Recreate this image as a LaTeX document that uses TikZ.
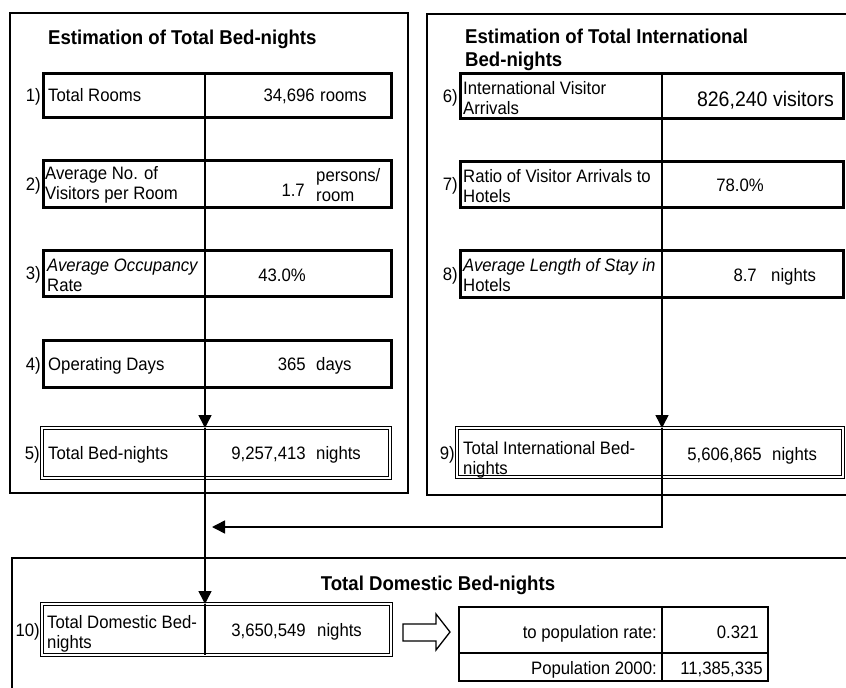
\documentclass[tikz,border=0pt]{standalone}
\usepackage{fontspec}
\setmainfont[FakeStretch=0.93]{Liberation Sans}
\usetikzlibrary{arrows.meta}
\tikzset{
  panel/.style={draw, line width=1.3pt},
  tbox/.style={draw, line width=3pt, anchor=north west, inner sep=0pt, outer sep=0pt},
  dbox/.style={draw, line width=1.2pt, double, double distance=2.4pt, anchor=north west, inner sep=0pt, outer sep=0pt},
  txt/.style={font=\fontsize{18}{20}\selectfont, inner sep=0pt},
  mtxt/.style={font=\fontsize{18}{20}\selectfont, inner sep=0pt, align=left},
  bigtxt/.style={font=\fontsize{21}{23}\selectfont, inner sep=0pt},
  ttl/.style={font=\fontsize{20}{23}\selectfont\bfseries, inner sep=0pt, align=left},
  conn/.style={line width=1.5pt, -{Triangle[length=13pt,width=13pt]}},
  divl/.style={line width=1.5pt},
  tabline/.style={line width=1.2pt},
  hollow/.style={line width=1.3pt, line join=miter},
}
\begin{document}
\begin{tikzpicture}[x=1pt,y=-1pt]
\useasboundingbox (0,0) rectangle (846,688);
\clip (0,0) rectangle (846,688);
\fill[white] (0,0) rectangle (846,688);

% panels
\draw[panel] (10,13) rectangle (408,493);
\draw[panel] (427,14) rectangle (870,495);
\draw[panel] (12,558) rectangle (870,720);

% titles
\node[ttl, anchor=base west] (tl) at (48,44) {Estimation of Total Bed-nights};
\node[ttl, anchor=west] (tr) at (465,50) {Estimation of Total International\\Bed-nights};
\node[ttl, anchor=base] (tb) at (438,590) {Total Domestic Bed-nights};

% divider coordinates
\coordinate (dL) at (205,0);
\coordinate (dR) at (662,0);

% left boxes
\node[tbox, minimum width=348pt, minimum height=44pt] (b1) at (43,73) {};
\node[tbox, minimum width=348pt, minimum height=47pt] (b2) at (43,160) {};
\node[tbox, minimum width=348pt, minimum height=46pt] (b3) at (43,250) {};
\node[tbox, minimum width=348pt, minimum height=47pt] (b4) at (43,340) {};
\node[dbox, minimum width=348pt, minimum height=50pt] (b5) at (42,428) {};
\node[dbox, minimum width=349pt, minimum height=51pt] (b10) at (42,604) {};

% right boxes
\node[tbox, minimum width=383pt, minimum height=45pt] (b6) at (460,73) {};
\node[tbox, minimum width=383pt, minimum height=46pt] (b7) at (460,161) {};
\node[tbox, minimum width=383pt, minimum height=47pt] (b8) at (460,250) {};
\node[dbox, minimum width=386pt, minimum height=49pt] (b9) at (457,428) {};

% item numbers
\node[txt, anchor=base east] (n1) at (41,101.5) {1)};
\node[txt, anchor=base east] (n2) at (41,190) {2)};
\node[txt, anchor=base east] (n3) at (41,279.5) {3)};
\node[txt, anchor=base east] (n4) at (41,370) {4)};
\node[txt, anchor=base east] (n5) at (40,459.5) {5)};
\node[txt, anchor=base east] (n10) at (40,636) {10)};
\node[txt, anchor=base east] (n6) at (458,102) {6)};
\node[txt, anchor=base east] (n7) at (458,190.5) {7)};
\node[txt, anchor=base east] (n8) at (458,280) {8)};
\node[txt, anchor=base east] (n9) at (455,459) {9)};

% left cell labels
\node[txt, anchor=base west] (l1) at (48,101.5) {Total Rooms};
\node[mtxt, anchor=west] (l2) at (45,185) {Average No. of\\Visitors per Room};
\node[mtxt, anchor=west] (l3) at (47,275) {\textit{Average Occupancy}\\Rate};
\node[txt, anchor=base west] (l4) at (48,370) {Operating Days};
\node[txt, anchor=base west] (l5) at (48,459.5) {Total Bed-nights};
\node[mtxt, anchor=west] (l10) at (47,634) {Total Domestic Bed-\\nights};
\node[mtxt, anchor=west] (l6) at (463,98) {International Visitor\\Arrivals};
\node[mtxt, anchor=west] (l7) at (463,186) {Ratio of Visitor Arrivals to\\Hotels};
\node[mtxt, anchor=west] (l8) at (463,275) {\textit{Average Length of Stay in}\\Hotels};
\node[mtxt, anchor=west] (l9) at (463,460) {Total International Bed-\\nights};

% values
\node[txt, anchor=base east] (v1a) at (315,101.5) {34,696};
\node[txt, anchor=base west] (v1b) at (320,101.5) {rooms};
\node[txt, anchor=base east] (v2a) at (305,196) {1.7};
\node[mtxt, anchor=west] (v2b) at (316,185) {persons/\\room};
\node[txt, anchor=base] (v3) at (282,281) {43.0\%};
\node[txt, anchor=base east] (v4a) at (306,370) {365};
\node[txt, anchor=base west] (v4b) at (316,370) {days};
\node[txt, anchor=base east] (v5a) at (306,459.5) {9,257,413};
\node[txt, anchor=base west] (v5b) at (316,459.5) {nights};
\node[txt, anchor=base east] (v10a) at (306,636) {3,650,549};
\node[txt, anchor=base west] (v10b) at (317,636) {nights};
\node[bigtxt, anchor=base east] (v6) at (834,106) {826,240 visitors};
\node[txt, anchor=base] (v7) at (740,191) {78.0\%};
\node[txt, anchor=base east] (v8a) at (757,281) {8.7};
\node[txt, anchor=base west] (v8b) at (771,281) {nights};
\node[txt, anchor=base east] (v9a) at (762,460) {5,606,865};
\node[txt, anchor=base west] (v9b) at (772,460) {nights};

% connectors
\draw[conn] (b1.north -| dL) -- (b5.north -| dL);
\draw[conn] (b5.north -| dL) -- (b10.north -| dL);
\draw[divl] (b10.north -| dL) -- (b10.south -| dL);
\draw[conn] (b6.north -| dR) -- (b9.north -| dR);
\coordinate (join) at (205,527);
\draw[conn, shorten >=7pt] (b9.north -| dR) |- (join);

% hollow arrow
\draw[hollow] (403,624) -- (436,624) -- (436,614) -- (450,632) -- (436,650) -- (436,641) -- (403,641) -- cycle;

% table
\draw[tabline] (459,607) rectangle (768,681);
\draw[tabline] (459,653) -- (768,653);
\draw[tabline] (662,607) -- (662,681);
\node[txt, anchor=base east] (t1a) at (657,638) {to population rate:};
\node[txt, anchor=base east] (t1b) at (759,638) {0.321};
\node[txt, anchor=base east] (t2a) at (657,674) {Population 2000:};
\node[txt, anchor=base east] (t2b) at (763,674) {11,385,335};
\end{tikzpicture}
\end{document}
